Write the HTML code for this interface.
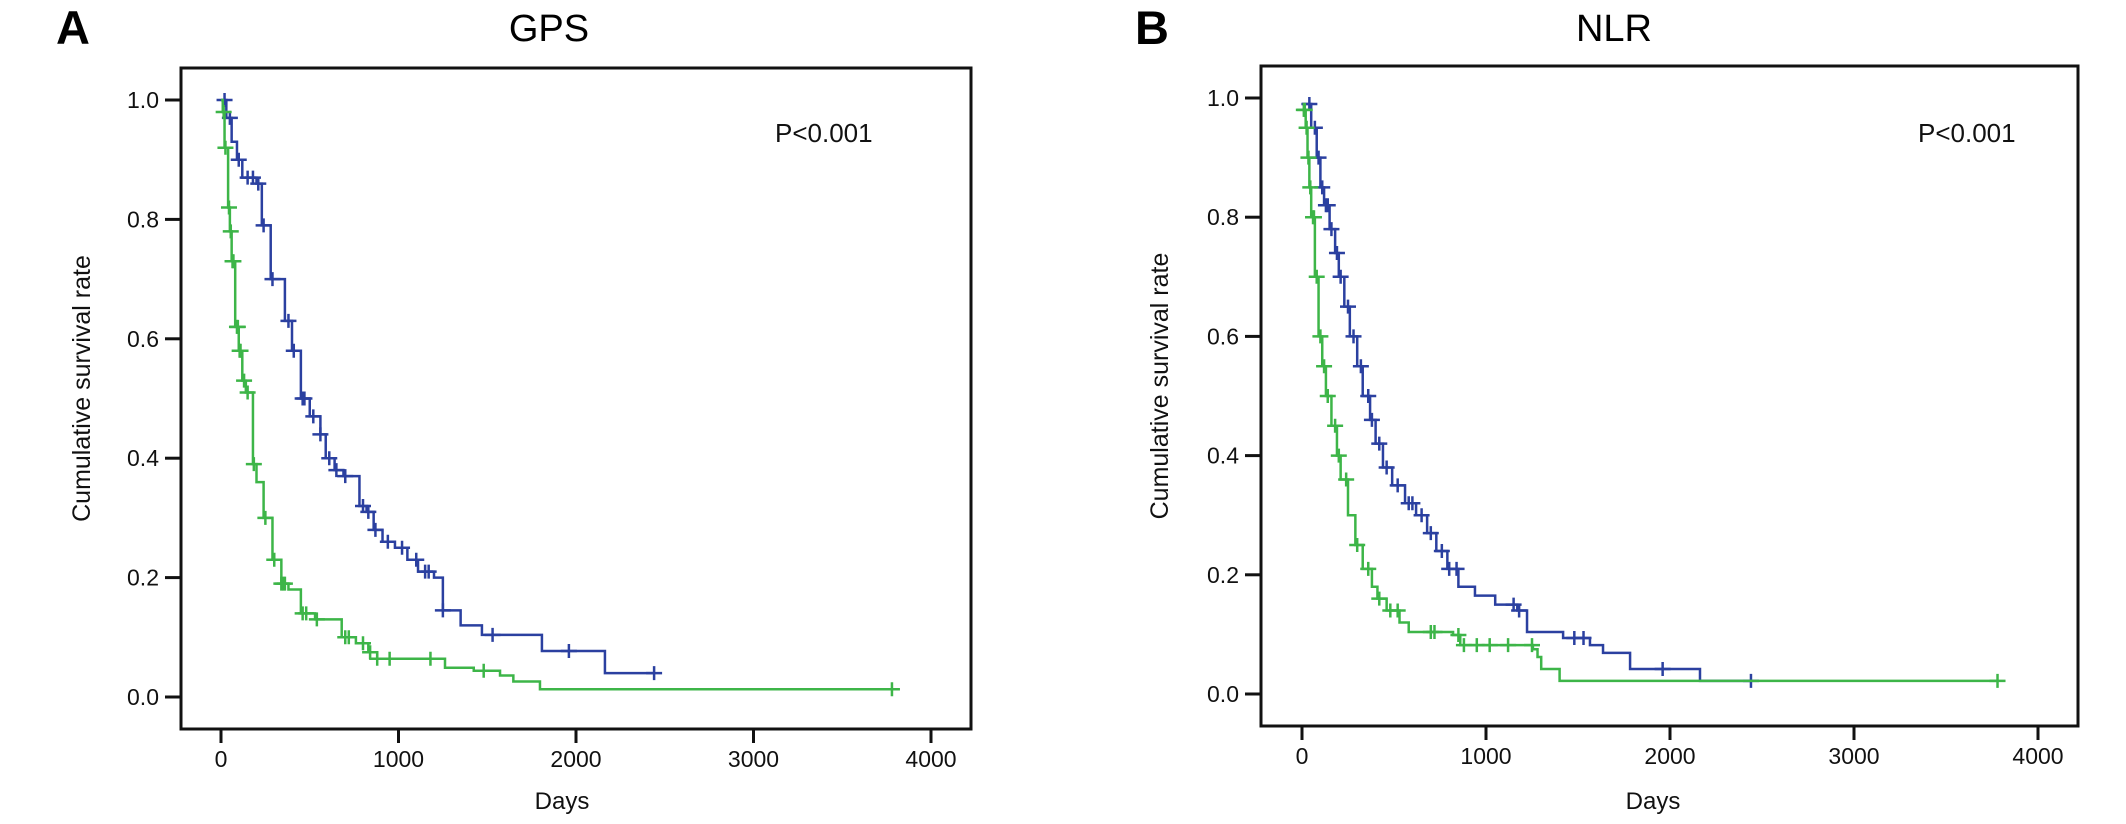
<!DOCTYPE html>
<html><head><meta charset="utf-8"><style>
html,body{margin:0;padding:0;background:#fff;}
svg{display:block;font-family:"Liberation Sans",Arial,sans-serif;}
</style></head><body>
<svg id="fig" width="2126" height="824" viewBox="0 0 2126 824" xmlns="http://www.w3.org/2000/svg"></svg>
<script>
// ---- data ----
const xTicks = [0, 1000, 2000, 3000, 4000];
const yTicks = [0.0, 0.2, 0.4, 0.6, 0.8, 1.0];
const yTickLabels = ["0.0", "0.2", "0.4", "0.6", "0.8", "1.0"];

// Panel A (GPS)
const gpsBlueDays = [0,30,60,90,120,200,230,280,360,400,450,500,560,590,640,690,780,820,860,910,980,1050,1110,1200,1250,1350,1470,1808,2163];
const gpsBlueSurv = [1.0,0.97,0.93,0.90,0.87,0.86,0.79,0.70,0.63,0.58,0.50,0.47,0.44,0.40,0.38,0.37,0.32,0.31,0.28,0.26,0.25,0.23,0.21,0.20,0.145,0.12,0.104,0.077,0.040];
const gpsBlueEnd = 2440;
const gpsBlueCensor = [20,50,100,150,180,210,240,290,380,410,460,470,520,560,610,650,700,800,830,870,940,1020,1100,1150,1170,1250,1530,1960,2440];

const gpsGreenDays = [0,10,20,40,50,60,80,100,120,140,180,200,240,290,340,380,450,530,680,760,830,880,1262,1424,1572,1647,1797];
const gpsGreenSurv = [1.0,0.98,0.92,0.82,0.78,0.73,0.62,0.58,0.53,0.51,0.39,0.36,0.30,0.23,0.19,0.18,0.14,0.13,0.10,0.09,0.075,0.064,0.049,0.044,0.036,0.026,0.013];
const gpsGreenEnd = 3780;
const gpsGreenCensor = [15,25,45,55,65,70,90,95,105,110,130,150,185,250,300,340,350,360,460,480,540,700,720,800,840,880,950,1180,1480,3780];

// Panel B (NLR)
const nlrBlueDays = [0,50,80,100,120,150,180,200,230,260,300,330,370,400,440,490,560,620,680,730,790,850,940,1050,1170,1223,1419,1565,1636,1783,2163];
const nlrBlueSurv = [0.99,0.95,0.90,0.85,0.82,0.78,0.74,0.70,0.65,0.60,0.55,0.50,0.46,0.42,0.38,0.35,0.32,0.30,0.27,0.24,0.21,0.18,0.165,0.15,0.14,0.104,0.094,0.082,0.069,0.042,0.022];
const nlrBlueEnd = 2440;
const nlrBlueCensor = [40,70,90,110,130,140,160,190,210,250,280,320,360,380,420,460,520,580,600,650,700,760,800,840,1150,1180,1480,1530,1960,2440];

const nlrGreenDays = [0,20,30,40,50,70,90,110,130,160,190,210,250,290,330,380,410,460,530,580,821,860,1255,1280,1300,1400];
const nlrGreenSurv = [0.98,0.95,0.90,0.85,0.80,0.70,0.60,0.55,0.50,0.45,0.40,0.36,0.30,0.25,0.21,0.18,0.16,0.14,0.12,0.104,0.099,0.082,0.075,0.062,0.042,0.022];
const nlrGreenEnd = 3780;
const nlrGreenCensor = [10,15,25,35,45,60,65,80,100,120,140,180,200,240,300,360,420,480,520,700,720,850,880,950,1020,1120,1250,3780];

// ---- drawing ----
const NS = "http://www.w3.org/2000/svg";
const svg = document.getElementById("fig");
function el(tag, attrs, parent, text){
  const e = document.createElementNS(NS, tag);
  for (const k in attrs) e.setAttribute(k, attrs[k]);
  if (text !== undefined) e.textContent = text;
  (parent || svg).appendChild(e);
  return e;
}
const BLUE = "#2b40a0", GREEN = "#3db548";

function panel(cfg){
  const g = el("g", {});
  
  
  const xS = d => cfg.x0 + cfg.xPer1000 * d / 1000;
  const yS = s => cfg.y0 - cfg.yPerUnit * s;

  const letter = el("text", {x: cfg.letterX, y: 44, "font-size": 47, "font-weight": "bold", fill: "#000"}, g, cfg.letter);
  
  
  const title = el("text", {x: cfg.titleX, y: 41, "font-size": 38, "text-anchor": "middle", fill: "#000"}, g, cfg.title);
  
  

  const box = el("rect", {x: cfg.left, y: cfg.top, width: cfg.right - cfg.left, height: cfg.bottom - cfg.top, fill: "none", stroke: "#111", "stroke-width": 3}, g);
  
  

  yTicks.forEach((v, i) => {
    const y = yS(v);
    const t = el("line", {x1: cfg.left - 16, x2: cfg.left, y1: y, y2: y, stroke: "#111", "stroke-width": 3}, g);
    
    
    const lb = el("text", {x: cfg.left - 22, y: y + 8, "font-size": 23, "text-anchor": "end", fill: "#111"}, g, yTickLabels[i]);
    
    
  });
  xTicks.forEach(v => {
    const x = xS(v);
    const t = el("line", {x1: x, x2: x, y1: cfg.bottom, y2: cfg.bottom + 14, stroke: "#111", "stroke-width": 3}, g);
    
    
    const lb = el("text", {x: x, y: cfg.bottom + 38, "font-size": 23, "text-anchor": "middle", fill: "#111"}, g, String(v));
    
    
  });
  const xt = el("text", {x: cfg.daysX, y: 809, "font-size": 24, "text-anchor": "middle", fill: "#111"}, g, "Days");
  
  
  const yt = el("text", {x: 0, y: 0, "font-size": 25, "text-anchor": "middle", fill: "#111", transform: `translate(${cfg.yLabelX},${(cfg.top + cfg.bottom) / 2 - 10}) rotate(-90)`}, g, "Cumulative survival rate");
  
  
  const p = el("text", {x: cfg.pX, y: 142, "font-size": 26, fill: "#111"}, g, "P<0.001");
  
  

  cfg.series.forEach(s => {
    let d = `M${xS(s.days[0])},${yS(s.surv[0])}`;
    for (let i = 1; i < s.days.length; i++) {
      d += ` H${xS(s.days[i])} V${yS(s.surv[i])}`;
    }
    d += ` H${xS(s.end)}`;
    const path = el("path", {d: d, fill: "none", stroke: s.color, "stroke-width": 2.5}, g);
    
    
    const survAt = t => {
      let v = s.surv[0];
      for (let i = 0; i < s.days.length; i++) if (s.days[i] <= t) v = s.surv[i];
      return v;
    };
    s.censor.forEach(t => {
      const cx = xS(t), cy = yS(survAt(t));
      const m = el("path", {d: `M${cx - 8},${cy} H${cx + 8} M${cx},${cy - 7} V${cy + 7}`, stroke: s.color, "stroke-width": 2.5, fill: "none"}, g);
      
      
    });
  });
}

panel({id: "gps", letter: "A", letterX: 56, title: "GPS", titleX: 549,
  left: 181, right: 971, top: 68, bottom: 729,
  x0: 221, xPer1000: 177.5, y0: 697, yPerUnit: 597,
  daysX: 562, yLabelX: 90, pX: 775,
  series: [
    {name: "gps-low", color: BLUE, days: gpsBlueDays, surv: gpsBlueSurv, end: gpsBlueEnd, censor: gpsBlueCensor},
    {name: "gps-high", color: GREEN, days: gpsGreenDays, surv: gpsGreenSurv, end: gpsGreenEnd, censor: gpsGreenCensor}
  ]});
panel({id: "nlr", letter: "B", letterX: 1135, title: "NLR", titleX: 1614,
  left: 1261, right: 2078, top: 66, bottom: 726,
  x0: 1302, xPer1000: 184, y0: 694, yPerUnit: 596,
  daysX: 1653, yLabelX: 1168, pX: 1918,
  series: [
    {name: "nlr-low", color: BLUE, days: nlrBlueDays, surv: nlrBlueSurv, end: nlrBlueEnd, censor: nlrBlueCensor},
    {name: "nlr-high", color: GREEN, days: nlrGreenDays, surv: nlrGreenSurv, end: nlrGreenEnd, censor: nlrGreenCensor}
  ]});
</script>
</body></html>
